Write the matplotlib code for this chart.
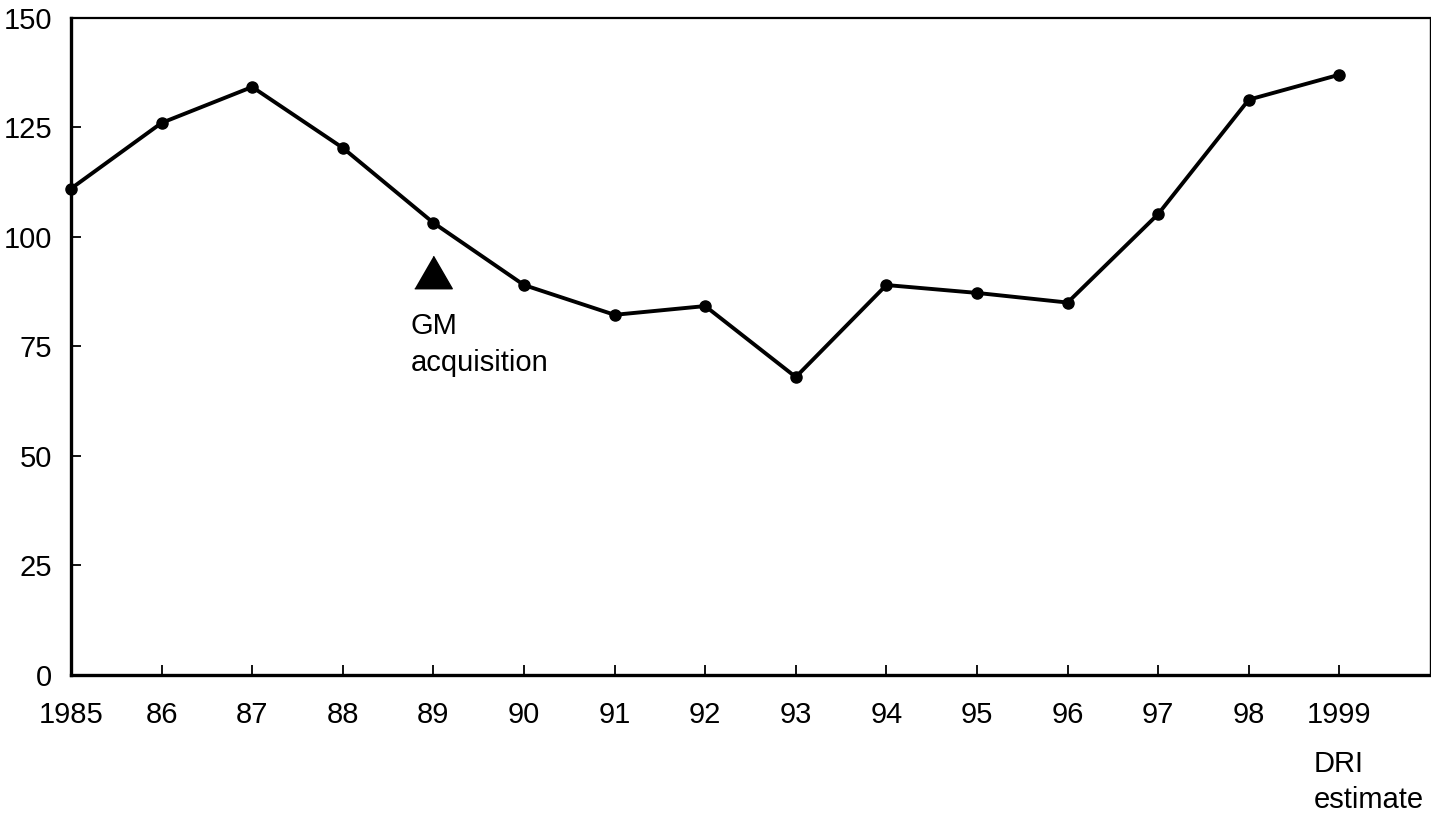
import matplotlib.pyplot as plt

plt.rcParams['font.family'] = ['Liberation Sans', 'DejaVu Sans']

years = [1985, 1986, 1987, 1988, 1989, 1990, 1991, 1992, 1993, 1994, 1995, 1996, 1997, 1998, 1999]
values = [111, 126, 134.2, 120.3, 103.2, 89, 82.2, 84.2, 68, 89, 87.2, 85, 105.2, 131.3, 137]
tick_labels = ["1985", "86", "87", "88", "89", "90", "91", "92", "93", "94", "95", "96", "97", "98", "1999"]
y_ticks = [0, 25, 50, 75, 100, 125, 150]

event_year = 1989
event_level = 92
event_text = "GM\nacquisition"
note_text = "DRI\nestimate"

FS = 21


def main():
    fig = plt.figure(figsize=(14.31, 8.13), dpi=100)
    ax = fig.add_axes([0.0496, 0.1697, 0.9497, 0.8085])

    ax.plot(years, values, color="black", lw=2.8, marker="o", ms=8, clip_on=False, zorder=3)

    # acquisition marker (equilateral triangle)
    tri = [(-1, -0.866), (1, -0.866), (0, 0.866)]
    ax.plot([event_year], [event_level], marker=tri, ms=27, color="black", ls="none")
    ax.text(event_year - 0.25, 82.9, event_text, fontsize=FS,
            va="top", ha="left", linespacing=1.4)

    ax.set_xlim(1985, 2000)
    ax.set_ylim(0, 150)
    ax.set_xticks(years)
    ax.set_xticklabels(tick_labels)
    ax.set_yticks(y_ticks)

    ax.tick_params(axis="both", direction="in", length=7, width=1.3, labelsize=FS, color="black")
    ax.tick_params(axis="x", pad=19)
    ax.tick_params(axis="y", pad=13.5)

    ax.spines["left"].set_linewidth(2.4)
    ax.spines["bottom"].set_linewidth(2.4)
    ax.spines["top"].set_linewidth(1.6)
    ax.spines["right"].set_linewidth(1.0)

    # note under the last year
    ax.text(1998.72, -17.0, note_text, fontsize=FS, va="top", ha="left",
            linespacing=1.4, clip_on=False)

    fig.savefig("out.png", dpi=100)


if __name__ == "__main__":
    main()
